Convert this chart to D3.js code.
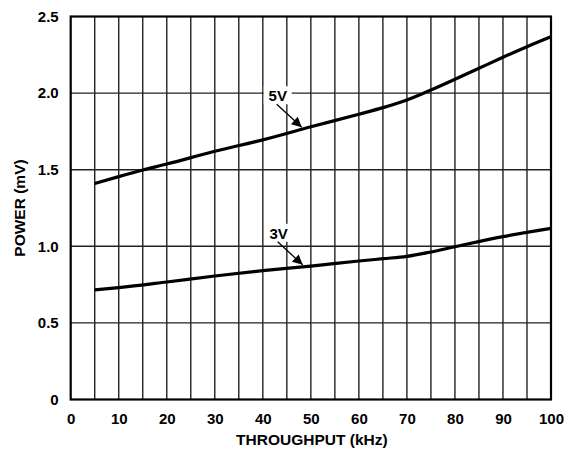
<!DOCTYPE html>
<html>
<head>
<meta charset="utf-8">
<script src="https://cdn.jsdelivr.net/npm/d3@7"></script>
<style>
  body { margin: 0; background: #fff; }
  text { font-family: Arial, "Liberation Sans", sans-serif; font-weight: bold; }
</style>
</head>
<body>
<svg id="chart" width="568" height="451"></svg>
<script>
// throughput (kHz) and power (mV)
const throughput = [5, 10, 15, 20, 30, 40, 50, 60, 65, 70, 75, 80, 85, 90, 95, 100];
const power5V = [1.41, 1.455, 1.498, 1.537, 1.62, 1.695, 1.78, 1.862, 1.905, 1.955, 2.02, 2.09, 2.162, 2.234, 2.303, 2.368];
const throughput3V = [5, 10, 20, 30, 40, 50, 60, 65, 70, 75, 80, 90, 100];
const power3V = [0.715, 0.73, 0.767, 0.806, 0.841, 0.871, 0.904, 0.919, 0.934, 0.963, 0.997, 1.063, 1.117];
const xTicks = [0, 10, 20, 30, 40, 50, 60, 70, 80, 90, 100];
const yTicks = [0, 0.5, 1.0, 1.5, 2.0, 2.5];
const yTickLabels = ['0', '0.5', '1.0', '1.5', '2.0', '2.5'];
const labels = [
    { name: '5V', at: 48.1, series: 0 },
    { name: '3V', at: 48.3, series: 1 }
];

const svg = d3.select('#chart');
const margin = { left: 70.7, right: 17, top: 16.5, bottom: 51.5 };
const width = 568 - margin.left - margin.right;
const height = 451 - margin.top - margin.bottom;

const x = d3.scaleLinear().domain([0, 100]).range([0, width]);
const y = d3.scaleLinear().domain([0, 2.5]).range([height, 0]);

svg.append('defs').append('marker')
    .attr('id', 'arrow')
    .attr('viewBox', '0 -5 10 10')
    .attr('refX', 10)
    .attr('refY', 0)
    .attr('orient', 'auto')
    .attr('markerUnits', 'userSpaceOnUse')
    .attr('markerWidth', 13)
    .attr('markerHeight', 10)
    .append('path')
    .attr('d', 'M0,-5L10,0L0,5Z')
    .attr('fill', '#000');

const g = svg.append('g').attr('transform', `translate(${margin.left},${margin.top})`);

// grid
g.append('g')
    .selectAll('line')
    .data(d3.range(5, 100, 5))
    .join('line')
    .attr('x1', d => x(d)).attr('x2', d => x(d))
    .attr('y1', 0).attr('y2', height)
    .attr('stroke', '#222').attr('stroke-width', 1.4);

g.append('g')
    .selectAll('line')
    .data(yTicks.slice(1, -1))
    .join('line')
    .attr('x1', 0).attr('x2', width)
    .attr('y1', d => y(d)).attr('y2', d => y(d))
    .attr('stroke', '#222').attr('stroke-width', 1.4);

g.append('rect')
    .attr('width', width).attr('height', height)
    .attr('fill', 'none').attr('stroke', '#000').attr('stroke-width', 2.2);

// axes labels
const xAxis = g.append('g')
    .attr('transform', `translate(0,${height})`)
    .call(d3.axisBottom(x).tickValues(xTicks).tickSize(0).tickPadding(14));
xAxis.select('.domain').remove();
xAxis.selectAll('text').attr('font-size', 15).attr('fill', '#000');

const yAxis = g.append('g')
    .call(d3.axisLeft(y).tickValues(yTicks).tickSize(0).tickPadding(12)
        .tickFormat((d, i) => yTickLabels[i]));
yAxis.select('.domain').remove();
yAxis.selectAll('text').attr('font-size', 15).attr('fill', '#000');

svg.append('text')
    .attr('x', margin.left + width / 2 + 1)
    .attr('y', 445)
    .attr('text-anchor', 'middle')
    .attr('font-size', 15.5)
    .text('THROUGHPUT (kHz)');

svg.append('text')
    .attr('transform', 'translate(25,208) rotate(-90)')
    .attr('text-anchor', 'middle')
    .attr('font-size', 15.5)
    .text('POWER (mV)');

// curves
const series = [
    throughput.map((t, i) => [t, power5V[i]]),
    throughput3V.map((t, i) => [t, power3V[i]])
];
const line = d3.line()
    .x(d => x(d[0]))
    .y(d => y(d[1]))
    .curve(d3.curveMonotoneX);

g.selectAll('.curve')
    .data(series)
    .join('path')
    .attr('class', 'curve')
    .attr('d', line)
    .attr('fill', 'none')
    .attr('stroke', '#000')
    .attr('stroke-width', 3.2);

// annotations
const interp = (s, t) => {
    const ts = s.map(d => d[0]), vs = s.map(d => d[1]);
    const i = d3.bisectLeft(ts, t);
    const f = (t - ts[i - 1]) / (ts[i] - ts[i - 1]);
    return vs[i - 1] + f * (vs[i] - vs[i - 1]);
};

labels.forEach(l => {
    const tx = x(l.at);
    const ty = y(interp(series[l.series], l.at));
    const lx = tx - 24, ly = ty - 33;
    g.append('rect')
        .attr('x', lx - 14).attr('y', ly - 10)
        .attr('width', 28).attr('height', 18)
        .attr('fill', '#fff');
    g.append('text')
        .attr('x', lx).attr('y', ly + 5)
        .attr('text-anchor', 'middle')
        .attr('font-size', 15)
        .text(l.name);
    g.append('line')
        .attr('x1', lx - 1).attr('y1', ly + 8)
        .attr('x2', tx).attr('y2', ty - 2)
        .attr('stroke', '#000').attr('stroke-width', 1.3)
        .attr('marker-end', 'url(#arrow)');
});
</script>
</body>
</html>
